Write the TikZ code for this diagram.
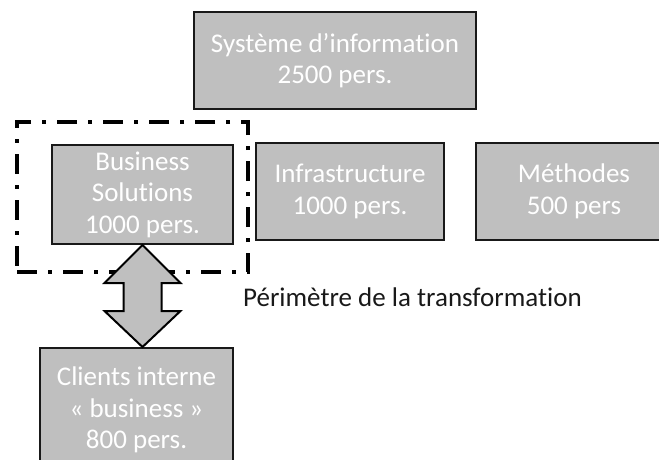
\documentclass[tikz,border=0pt]{standalone}
\usepackage{fontspec}
\setmainfont[Ligatures={NoCommon}]{Carlito}
\usetikzlibrary{positioning}
\begin{document}
\begin{tikzpicture}%
	[x=1pt, y=-1pt,
	box/.style={draw=black!90, line width=2pt, fill=black!25, text=white, align=center,
		inner sep=0pt, font=\fontsize{27}{31.5}\selectfont},
	perimeter/.style={draw=black, line width=3.5pt, dash pattern=on 20pt off 11pt on 4pt off 11pt,
		inner sep=0pt},
	link/.style={draw=black, line width=2pt, fill=black!25, line join=miter},
	label/.style={font=\fontsize{27}{31.5}\selectfont, text=black!90, inner sep=0pt}]
%
\useasboundingbox (0,0) rectangle (659,460);
%%
%% the frame of the perimeter
%%
\node[perimeter, minimum width=231pt, minimum height=150pt] (perim) at (132.5,197) {};
\node[label, anchor=west] (perimlabel) at (243,297) {Périmètre de la transformation};
%%
%% the boxes
%%
\node[box, minimum width=282pt, minimum height=97pt] (si) at (335,60.5) {Système d’information\\2500 pers.};
\node[box, minimum width=181pt, minimum height=99pt] (bs) at (142.5,194.5) {Business\\Solutions\\1000 pers.};
\node[box, minimum width=188pt, minimum height=97pt] (infra) at (350,191.5) {Infrastructure\\1000 pers.};
\node[box, minimum width=196pt, minimum height=97pt] (meth) at (574,191.5) {Méthodes\\500 pers};
\node[box, minimum width=193pt, minimum height=124pt] (cl) at (136.5,410) {Clients interne\\« business »\\800 pers.};
%%
%% the double arrow
%%
\coordinate (top) at (bs.south);
\coordinate (bot) at (bs.south |- cl.north);
\draw[link] (top) -- ([shift={(38,38)}]top) -- ([shift={(19,38)}]top)
	-- ([shift={(19,-36)}]bot) -- ([shift={(38,-36)}]bot) -- (bot)
	-- ([shift={(-38,-36)}]bot) -- ([shift={(-19,-36)}]bot)
	-- ([shift={(-19,38)}]top) -- ([shift={(-38,38)}]top) -- cycle;

\end{tikzpicture}
\end{document}
